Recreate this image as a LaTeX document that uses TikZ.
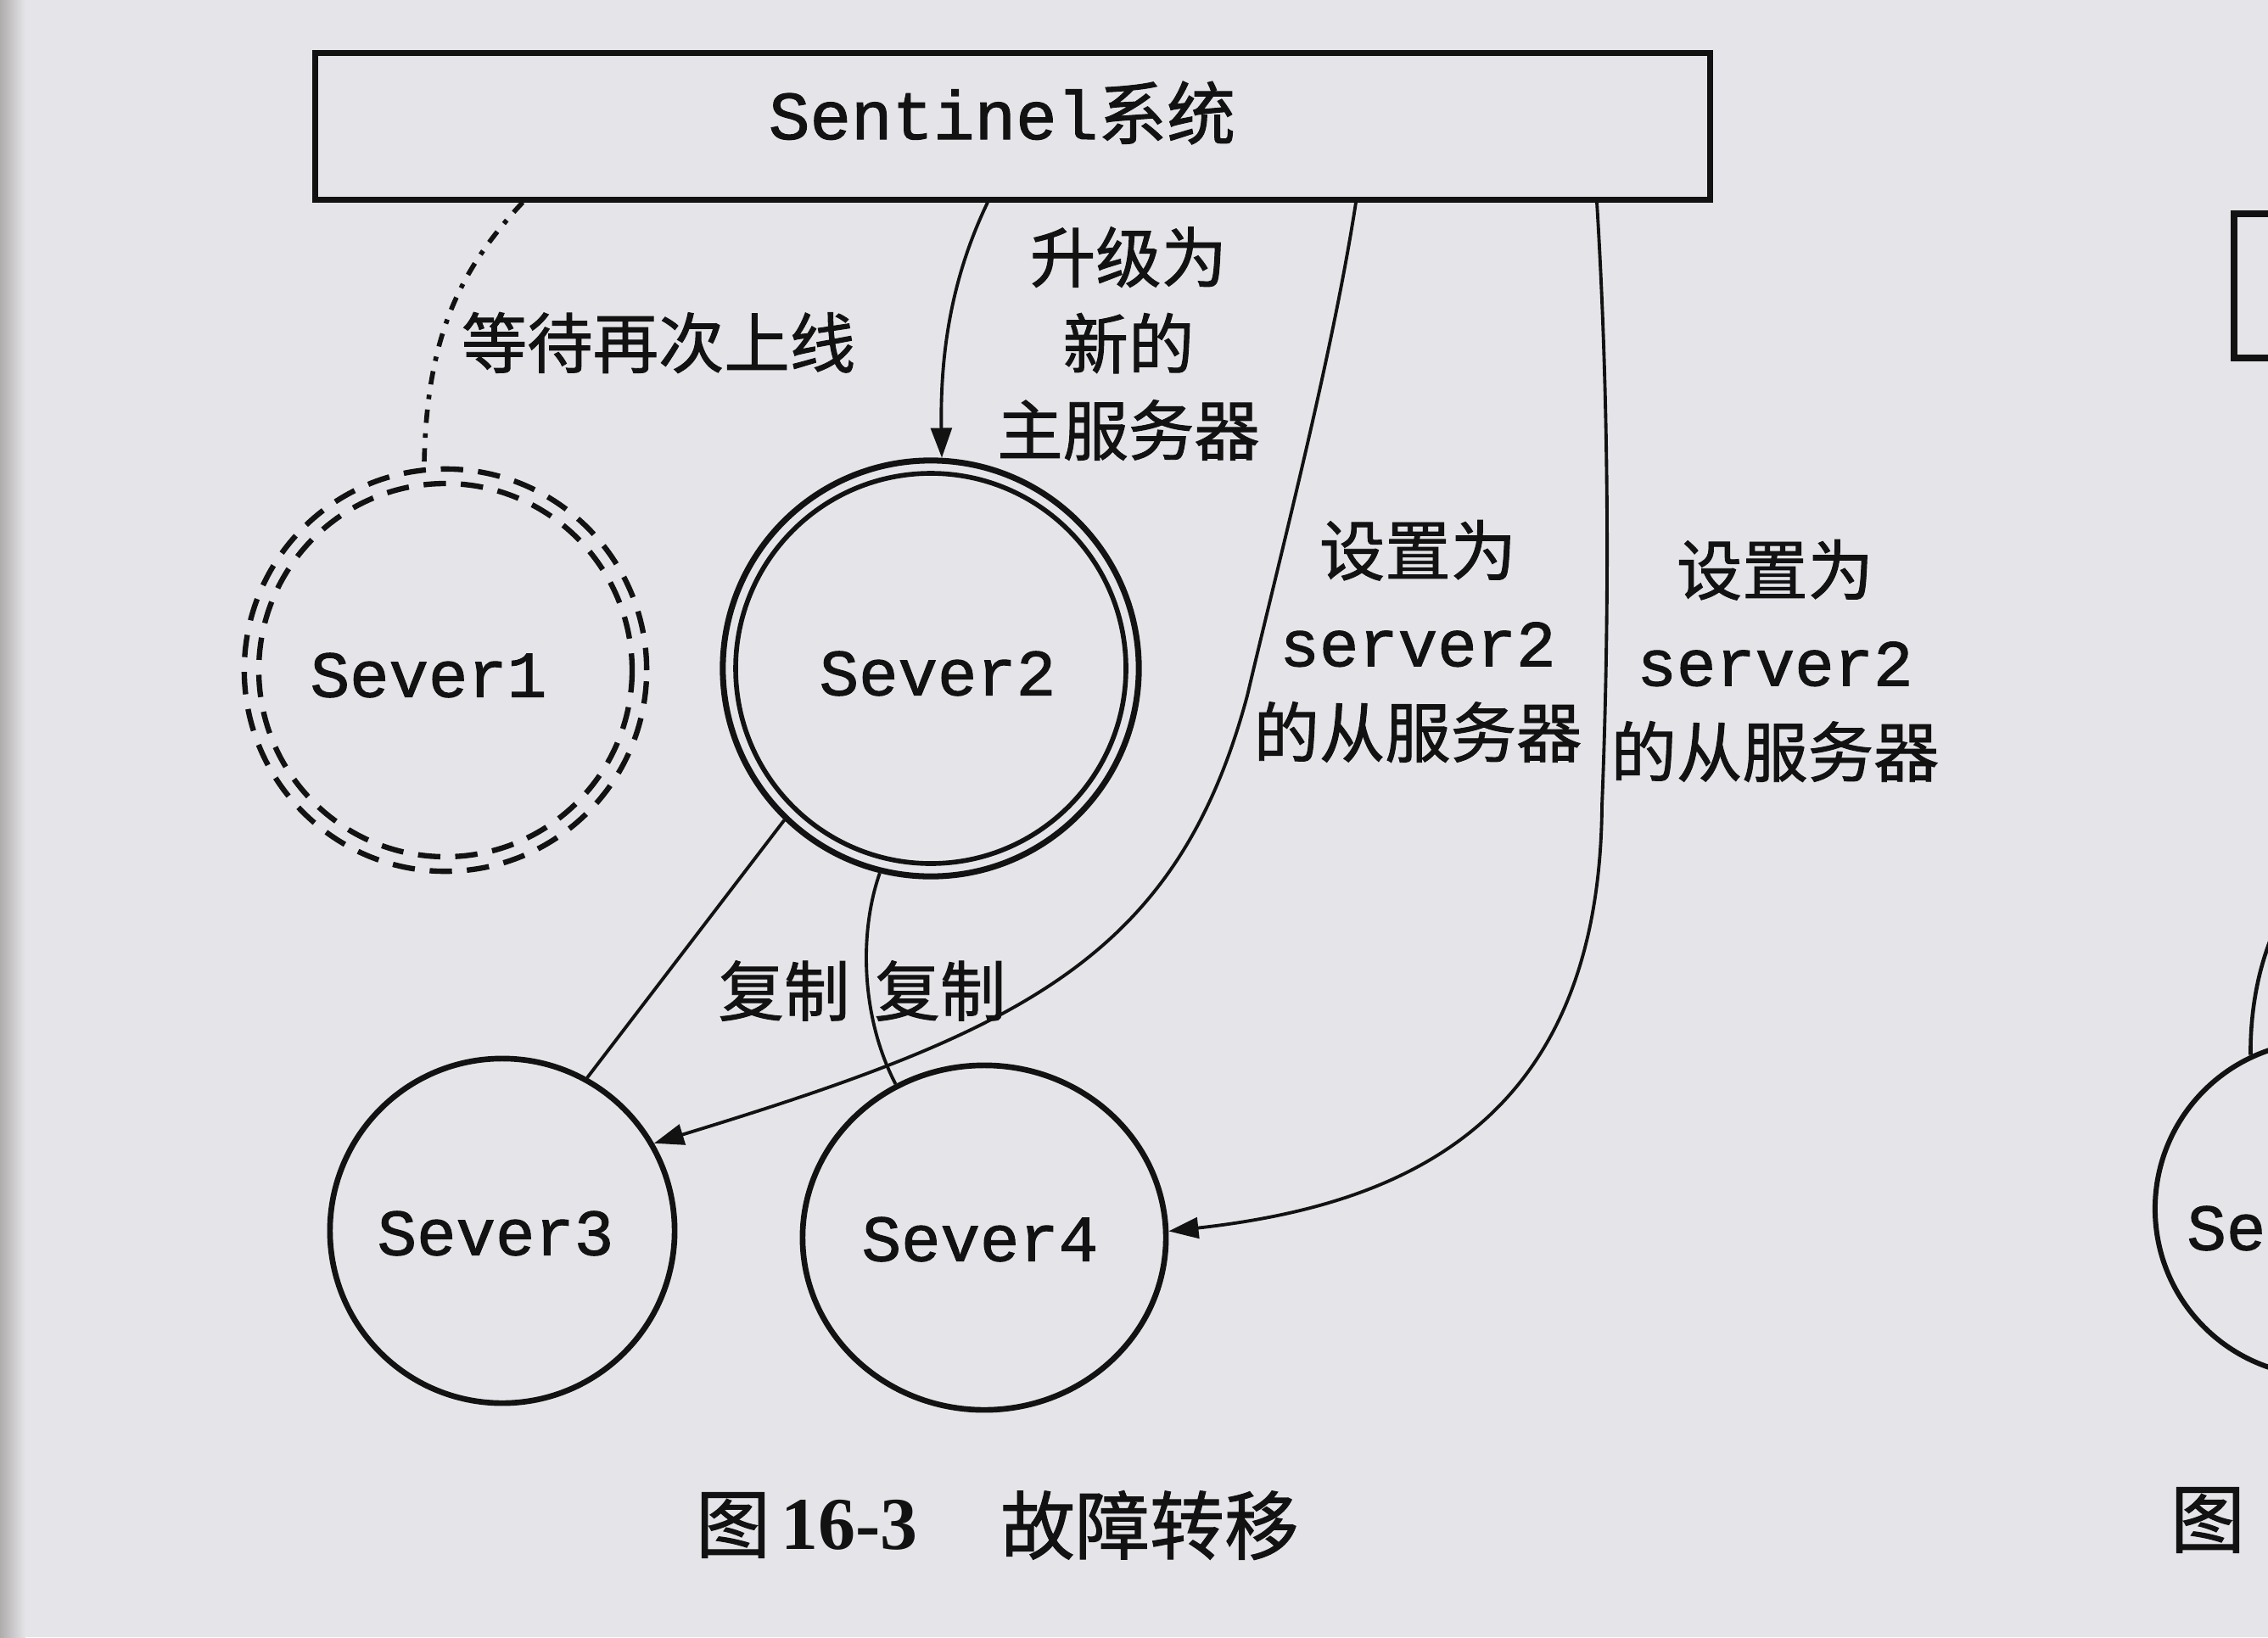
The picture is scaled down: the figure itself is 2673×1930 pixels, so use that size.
\documentclass[tikz,border=0pt]{standalone}
\usepackage{fontspec}
\setmainfont{Noto Sans CJK SC}[FakeBold=1.2]
\newfontfamily\mono{Liberation Mono}[FakeBold=1.4]
\newfontfamily\serifnum{Liberation Serif}
\usetikzlibrary{arrows.meta,shapes.geometric}
\definecolor{paper}{RGB}{229,229,233}
\definecolor{inkc}{RGB}{18,18,18}

\begin{document}
\begin{tikzpicture}[x=0.01cm,y=-0.01cm,
  server/.style={circle,draw=inkc,line width=1.9pt,inner sep=0pt},
  ringdash/.style={draw=inkc,line width=1.8pt,dash pattern=on 7.5pt off 5pt},
  lbl/.style={font=\fontsize{22}{29}\selectfont,text=inkc,align=center,inner sep=0pt},
  caption/.style={font=\fontsize{25}{30}\selectfont,text=inkc,inner sep=0pt},
  link/.style={draw=inkc,line width=1.1pt},
  tip/.style={-{Triangle[length=10pt,width=7pt]}},
  waitline/.style={draw=inkc,line width=1.6pt,dash pattern=on 4.5pt off 3.5pt on 1.5pt off 3.5pt}
]
% paper
\fill[paper] (0,0) rectangle (2673,1930);
\shade[left color={rgb,255:red,175;green,172;blue,172},right color=paper] (0,0) rectangle (30,1930);
\useasboundingbox (0,0) rectangle (2673,1930);

% Sentinel system box
\node[draw=inkc,line width=2pt,rectangle,minimum width=16.43cm,minimum height=1.72cm,inner sep=0pt]
  (box) at (1193.5,149) {};
\node[lbl,font=\fontsize{23}{28}\selectfont] (tsent) at (1181,133) {{\mono Sentinel}系统};

% points on the bottom edge of the box
\path (box.south west) ++(248,0) coordinate (b1);
\path (box.south west) ++(796,0) coordinate (b2);
\path (box.south west) ++(1230,0) coordinate (b3);
\path (box.south west) ++(1514,0) coordinate (b4);

% servers
\node[circle,ringdash,minimum size=4.74cm,inner sep=0pt] (s1) at (525,790) {};
\draw[ringdash] (s1.center) circle[radius=220];
\node[server,line width=2pt,minimum size=4.9cm] (s2) at (1097,788) {};
\draw[draw=inkc,line width=1.6pt] (s2.center) circle[radius=230];
\node[server,minimum size=4.06cm] (s3) at (592,1451) {};
\node[ellipse,draw=inkc,line width=1.9pt,inner sep=0pt,minimum width=4.28cm,minimum height=4.06cm] (s4) at (1160,1459) {};

\node[lbl] (t1) at (505,796) {\mono Sever1};
\node[lbl] (t2) at (1105,794) {\mono Sever2};
\node[lbl] (t3) at (584,1454) {\mono Sever3};
\node[lbl] (t4) at (1155,1461) {\mono Sever4};

% connectors
\draw[waitline] (b1) .. controls (540,320) and (502,400) .. (s1.96);
\draw[link,tip] (b2) .. controls (1120,330) and (1108,420) .. (s2.87);
\draw[link,tip] (b3) .. controls (1570,420) and (1510,650) .. (1470,820)
                     .. controls (1387,1130) and (1202,1216) .. (s3.30);
\draw[link,tip] (b4) .. controls (1898,500) and (1896,750) .. (1888,950)
                     .. controls (1885,1320) and (1660,1420) .. (s4.2);
\draw[link] (s2.226) -- (s3.61);
\draw[link] (s2.256) .. controls (1012,1100) and (1015,1200) .. (s4.120);

% labels
\node[lbl] (lwait) at (776,404) {等待再次上线};
\node[lbl] (lup) at (1330,405) {升级为\\新的\\主服务器};
\node[lbl,font=\fontsize{22}{30.5}\selectfont] (lset1) at (1671,756) {设置为\\{\mono server2}\\的从服务器};
\node[lbl,font=\fontsize{22}{30.5}\selectfont] (lset2) at (2092,779) {设置为\\{\mono server2}\\的从服务器};
\node[lbl] (lrep1) at (924,1168) {复制};
\node[lbl] (lrep2) at (1108,1168) {复制};

% caption
\node[caption] (cap1) at (864,1798) {图};
\node[caption] (cap2) at (1001,1798) {\serifnum\bfseries 16-3};
\node[caption] (cap3) at (1355,1798) {故障转移};

% next figure, cut off at the right edge
\node[draw=inkc,line width=2.3pt,rectangle,minimum width=2.6cm,minimum height=1.69cm,inner sep=0pt] (nbox) at (2763,337) {};
\node[server,line width=1.7pt,minimum size=3.94cm] (nc) at (2737,1425) {};
\node[lbl,anchor=east] (nct) at (2671,1448) {\mono Se};
\coordinate (ncin) at (2700,1060);
\draw[link,line width=1.3pt] (ncin) .. controls (2662,1120) and (2652,1190) .. (nc.115);
\node[caption] (ncap) at (2602,1792) {图};
\end{tikzpicture}
\end{document}
